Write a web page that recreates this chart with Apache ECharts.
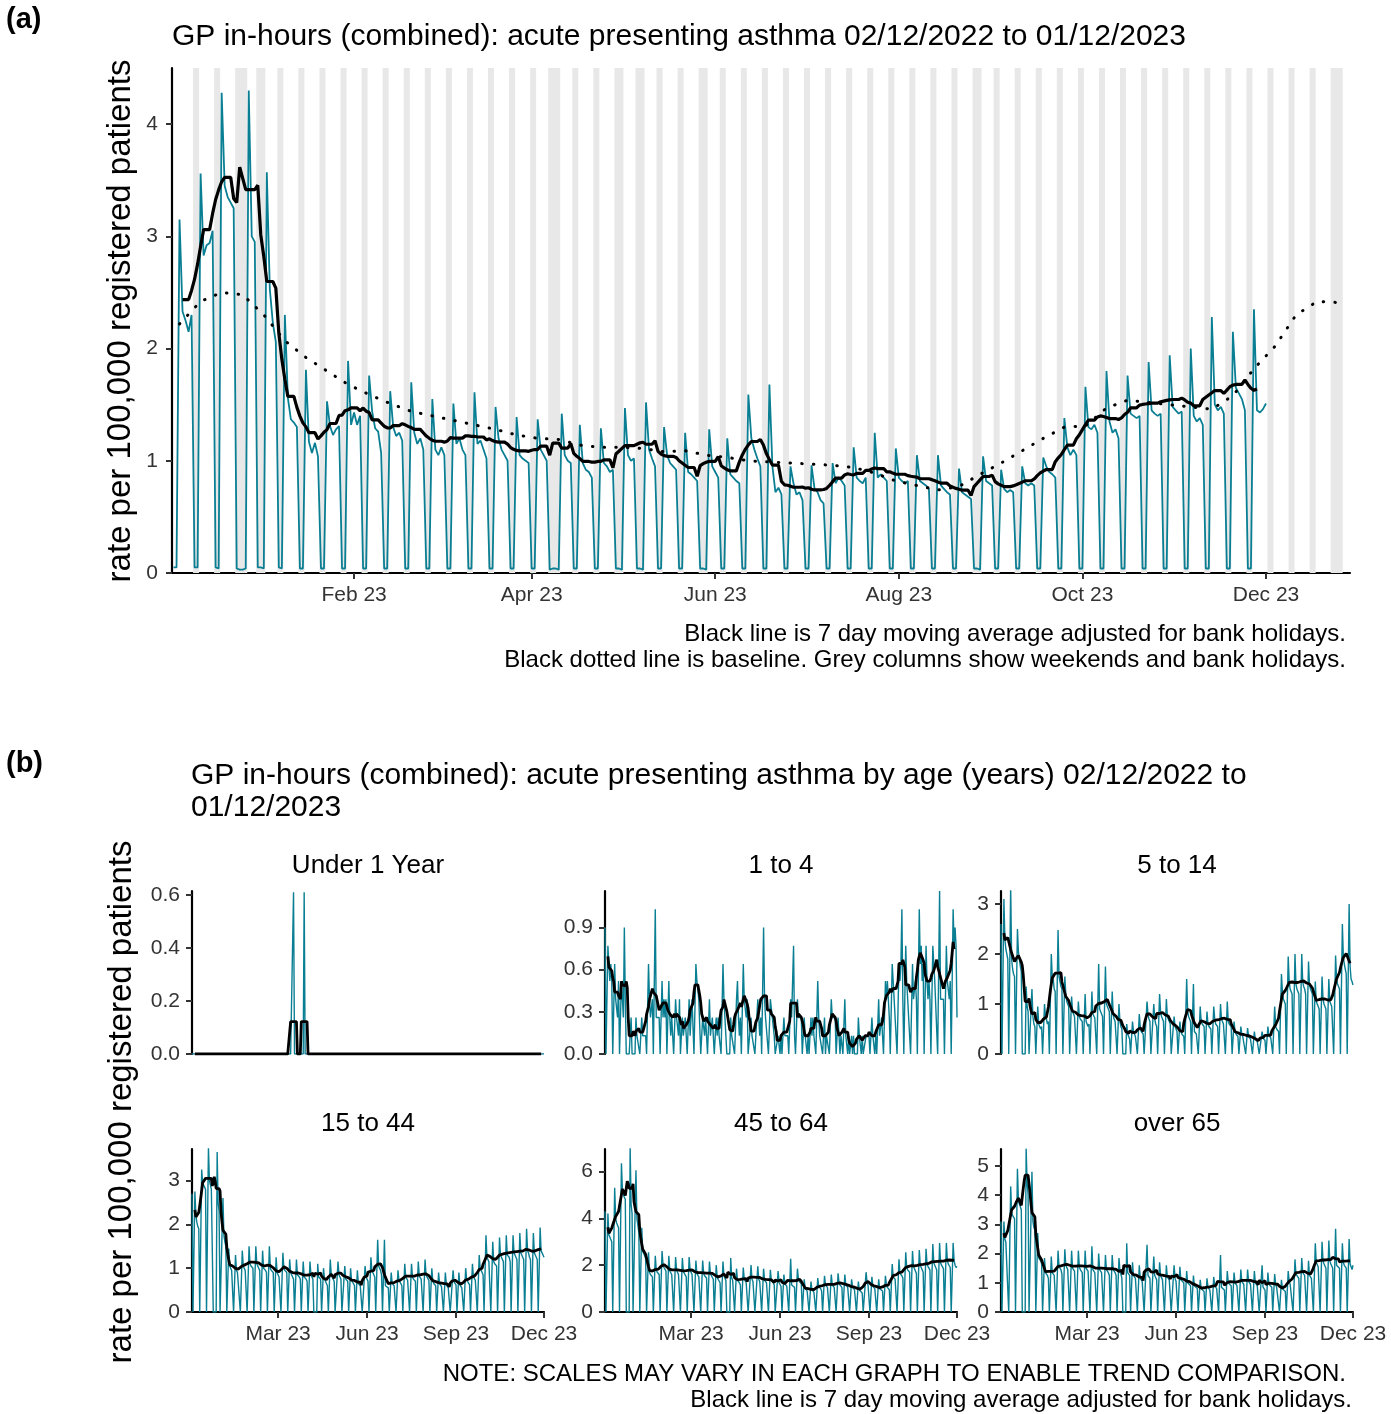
<!DOCTYPE html>
<html>
<head>
<meta charset="utf-8">
<script src="https://cdn.jsdelivr.net/npm/echarts@6/dist/echarts.min.js"></script>
<style>
html, body { margin: 0; padding: 0; background: #fff; }
#chart { width: 1391px; height: 1414px; }
</style>
</head>
<body>
<div id="chart"></div>
<script>
// ---- data ----
var bankHolidays = ['2022-12-26', '2022-12-27', '2023-01-02', '2023-04-07', '2023-04-10',
  '2023-05-01', '2023-05-08', '2023-05-29', '2023-08-28', '2023-12-25', '2023-12-26'];

// all ages, daily rate per 100,000 from Sat 03/12/2022 (rows are Mon..Sun weeks)
var allAgesStart = '2022-12-03';
var allAgesRate = [
  0.05, 0.05,
  3.15, 2.33, 2.25, 2.15, 2.30, 0.05, 0.05,
  3.56, 2.83, 2.92, 2.94, 3.05, 0.05, 0.04,
  4.28, 3.45, 3.35, 3.30, 3.25, 0.04, 0.03,
  0.03, 0.04, 4.30, 3.00, 2.95, 0.05, 0.05,
  0.04, 3.57, 2.53, 2.23, 2.06, 0.05, 0.04,
  2.30, 1.56, 1.37, 1.34, 1.30, 0.04, 0.04,
  1.81, 1.17, 1.07, 1.16, 1.04, 0.04, 0.04,
  1.53, 1.31, 1.23, 1.28, 1.31, 0.04, 0.04,
  1.89, 1.32, 1.43, 1.32, 1.40, 0.04, 0.04,
  1.76, 1.44, 1.29, 1.26, 1.07, 0.04, 0.04,
  1.62, 1.30, 1.22, 1.25, 1.18, 0.04, 0.04,
  1.70, 1.25, 1.15, 1.20, 1.10, 0.04, 0.04,
  1.55, 1.10, 1.05, 1.12, 1.05, 0.04, 0.04,
  1.51, 1.15, 1.20, 1.10, 1.05, 0.04, 0.04,
  1.61, 1.15, 1.18, 1.10, 1.02, 0.04, 0.04,
  1.48, 1.20, 1.10, 1.05, 1.00, 0.04, 0.04,
  1.39, 1.05, 1.02, 1.00, 0.98, 0.04, 0.04,
  1.37, 1.10, 1.05, 1.00, 0.03, 0.04, 0.04,
  0.03, 1.42, 1.05, 1.00, 0.98, 0.04, 0.04,
  1.32, 0.98, 0.92, 0.90, 0.85, 0.04, 0.04,
  1.29, 0.98, 0.95, 0.90, 0.92, 0.04, 0.04,
  0.03, 1.47, 1.05, 1.00, 1.02, 0.04, 0.04,
  0.03, 1.52, 1.10, 1.02, 0.95, 0.04, 0.04,
  1.30, 1.05, 0.98, 0.95, 0.92, 0.04, 0.04,
  1.25, 0.90, 0.88, 0.85, 0.82, 0.04, 0.04,
  0.03, 1.28, 0.95, 0.90, 0.85, 0.04, 0.04,
  1.20, 0.88, 0.85, 0.82, 0.80, 0.04, 0.04,
  1.59, 1.20, 1.10, 1.02, 0.95, 0.04, 0.04,
  1.68, 0.95, 0.72, 0.76, 0.70, 0.04, 0.04,
  0.95, 0.80, 0.70, 0.72, 0.65, 0.04, 0.04,
  0.96, 0.75, 0.72, 0.65, 0.62, 0.04, 0.04,
  0.98, 0.80, 0.85, 0.82, 0.78, 0.04, 0.04,
  1.12, 0.85, 0.82, 0.80, 0.85, 0.04, 0.04,
  1.25, 0.85, 0.88, 0.85, 0.82, 0.04, 0.04,
  1.11, 0.85, 0.82, 0.80, 0.82, 0.04, 0.04,
  1.05, 0.82, 0.80, 0.78, 0.75, 0.04, 0.04,
  1.05, 0.78, 0.75, 0.72, 0.70, 0.04, 0.04,
  0.93, 0.72, 0.70, 0.68, 0.66, 0.04, 0.04,
  0.03, 1.04, 0.82, 0.80, 0.78, 0.04, 0.04,
  0.92, 0.75, 0.72, 0.74, 0.72, 0.04, 0.04,
  0.95, 0.80, 0.78, 0.80, 0.78, 0.04, 0.04,
  1.03, 0.95, 0.90, 0.88, 0.85, 0.04, 0.04,
  1.38, 1.12, 1.05, 1.10, 1.05, 0.04, 0.04,
  1.66, 1.30, 1.28, 1.32, 1.25, 0.04, 0.04,
  1.80, 1.35, 1.25, 1.28, 1.20, 0.04, 0.04,
  1.76, 1.42, 1.40, 1.38, 1.40, 0.04, 0.04,
  1.88, 1.45, 1.42, 1.40, 1.42, 0.04, 0.04,
  1.94, 1.48, 1.45, 1.42, 1.44, 0.04, 0.04,
  2.00, 1.40, 1.35, 1.38, 1.32, 0.04, 0.04,
  2.28, 1.50, 1.45, 1.48, 1.42, 0.04, 0.04,
  2.15, 1.65, 1.60, 1.55, 1.45, 0.04, 0.04,
  2.35, 1.45, 1.43, 1.46, 1.51
];

// baseline, one value per week (Mondays from 05/12/2022)
var baselineStart = '2022-12-05';
var baselineRate = [
  2.22, 2.42, 2.50, 2.48, 2.30, 2.07, 1.92, 1.80, 1.68, 1.59, 1.51, 1.44, 1.40,
  1.36, 1.32, 1.28, 1.23, 1.20, 1.19, 1.14, 1.12, 1.12, 1.11, 1.08, 1.09, 1.05,
  1.03, 1.00, 0.99, 0.98, 0.97, 0.96, 0.94, 0.89, 0.82, 0.78, 0.74, 0.77, 0.88,
  0.98, 1.09, 1.20, 1.30, 1.31, 1.47, 1.54, 1.52, 1.50, 1.48, 1.46, 1.58, 1.82,
  2.02, 2.30, 2.42, 2.41
];

// by age, daily from Fri 02/12/2022 (first row Fri..Sun, then Mon..Sun weeks)
var ageStart = '2022-12-02';
var ageGroups = ['Under 1 Year', '1 to 4', '5 to 14', '15 to 44', '45 to 64', 'over 65'];

var under1Rate = [
  0, 0, 0,
  0, 0, 0, 0, 0, 0, 0,  0, 0, 0, 0, 0, 0, 0,  0, 0, 0, 0, 0, 0, 0,  0, 0, 0, 0, 0, 0, 0,
  0, 0, 0, 0, 0, 0, 0,  0, 0, 0, 0, 0, 0, 0,  0, 0, 0, 0, 0, 0, 0,  0, 0, 0, 0, 0, 0, 0,
  0, 0, 0, 0, 0, 0, 0,  0, 0, 0, 0, 0, 0, 0,  0, 0, 0, 0, 0, 0, 0,  0, 0, 0, 0, 0, 0, 0,
  0, 0, 0, 0, 0, 0, 0,  0, 0, 0, 0, 0, 0, 0,
  0, 0, 0, 0, 0.61, 0, 0,
  0, 0, 0, 0, 0, 0, 0,
  0, 0.61, 0, 0, 0, 0, 0,
  0, 0, 0, 0, 0, 0, 0,  0, 0, 0, 0, 0, 0, 0,  0, 0, 0, 0, 0, 0, 0,  0, 0, 0, 0, 0, 0, 0,
  0, 0, 0, 0, 0, 0, 0,  0, 0, 0, 0, 0, 0, 0,  0, 0, 0, 0, 0, 0, 0,  0, 0, 0, 0, 0, 0, 0,
  0, 0, 0, 0, 0, 0, 0,  0, 0, 0, 0, 0, 0, 0,  0, 0, 0, 0, 0, 0, 0,  0, 0, 0, 0, 0, 0, 0,
  0, 0, 0, 0, 0, 0, 0,  0, 0, 0, 0, 0, 0, 0,  0, 0, 0, 0, 0, 0, 0,  0, 0, 0, 0, 0, 0, 0,
  0, 0, 0, 0, 0, 0, 0,  0, 0, 0, 0, 0, 0, 0,  0, 0, 0, 0, 0, 0, 0,  0, 0, 0, 0, 0, 0, 0,
  0, 0, 0, 0, 0, 0, 0,  0, 0, 0, 0, 0, 0, 0,  0, 0, 0, 0, 0, 0, 0,  0, 0, 0, 0, 0, 0, 0,
  0, 0, 0, 0, 0, 0, 0,  0, 0, 0, 0, 0, 0, 0,  0, 0, 0, 0, 0, 0, 0,  0, 0, 0, 0, 0, 0, 0,
  0, 0, 0, 0, 0, 0, 0,  0, 0, 0, 0, 0, 0, 0,  0, 0, 0, 0, 0, 0, 0,  0, 0, 0, 0, 0, 0, 0,
  0, 0, 0, 0, 0, 0, 0,  0, 0, 0, 0, 0, 0, 0,
  0, 0, 0, 0, 0
];

var age1to4Rate = [
  0.90, 0, 0,
  0.77, 0.64, 0.52, 0.64, 0.52, 0, 0,
  0.64, 0.39, 0.39, 0.26, 0.52, 0, 0,
  0.52, 0.39, 0.26, 0.90, 0.39, 0, 0,
  0, 0, 0.13, 0.26, 0, 0, 0,
  0, 0.26, 0.13, 0.13, 0.13, 0, 0,
  0.26, 0.13, 0.13, 0.13, 0.13, 0, 0,
  0.64, 0.39, 0.26, 0.26, 0.39, 0, 0,
  1.03, 0.26, 0.26, 0.26, 0.26, 0, 0,
  0.52, 0.26, 0.39, 0.26, 0.39, 0, 0,
  0.52, 0.26, 0.13, 0.26, 0.26, 0, 0,
  0.39, 0.26, 0.26, 0.13, 0.39, 0, 0,
  0.26, 0.13, 0.13, 0.26, 0.13, 0, 0,
  0.39, 0.13, 0.26, 0.39, 0.39, 0, 0,
  0.64, 0.52, 0.52, 0.39, 0.39, 0, 0,
  0.26, 0.26, 0.13, 0.26, 0.26, 0, 0,
  0.39, 0.13, 0.13, 0.26, 0.13, 0, 0,
  0.26, 0.13, 0.26, 0.13, 0.13, 0, 0,
  0.64, 0.39, 0.26, 0.26, 0, 0, 0,
  0, 0.26, 0.13, 0.13, 0.13, 0, 0,
  0.39, 0.52, 0.26, 0.13, 0.26, 0, 0,
  0.64, 0.39, 0.39, 0.26, 0.39, 0, 0,
  0, 0.26, 0.13, 0.13, 0.13, 0, 0,
  0, 0.39, 0.26, 0.13, 0.26, 0, 0,
  0.90, 0.39, 0.26, 0.26, 0.26, 0, 0,
  0.39, 0.39, 0.26, 0.26, 0.13, 0, 0,
  0, 0.13, 0.13, 0, 0.13, 0, 0,
  0.26, 0.13, 0.13, 0.13, 0.13, 0, 0,
  0.39, 0.26, 0.26, 0.77, 0.13, 0, 0,
  0.39, 0.26, 0.26, 0.26, 0.26, 0, 0,
  0.26, 0.13, 0.13, 0, 0.13, 0, 0,
  0.26, 0.13, 0.26, 0.13, 0.13, 0, 0,
  0.52, 0.26, 0.13, 0.13, 0.13, 0, 0,
  0.26, 0, 0.13, 0.13, 0.13, 0, 0,
  0.39, 0.26, 0.26, 0.26, 0.26, 0, 0,
  0.26, 0.13, 0, 0.13, 0.13, 0, 0,
  0.39, 0.13, 0.13, 0, 0.13, 0, 0,
  0.13, 0, 0.13, 0, 0, 0, 0,
  0.26, 0.13, 0.13, 0, 0.13, 0, 0,
  0, 0.13, 0.13, 0.13, 0.13, 0, 0,
  0.26, 0.13, 0.13, 0, 0.13, 0, 0,
  0.39, 0.13, 0.13, 0.26, 0.13, 0, 0,
  0.52, 0.39, 0.52, 0.39, 0.26, 0, 0,
  0.64, 0.52, 0.39, 0.39, 0.39, 0, 0,
  0.64, 0.52, 0.64, 1.03, 0.39, 0, 0,
  0.77, 0.52, 0.39, 0.39, 0.39, 0, 0,
  0.64, 0.39, 0.39, 0.52, 0.39, 0, 0,
  1.03, 0.64, 0.77, 0.52, 0.64, 0, 0,
  0.77, 0.52, 0.39, 0.52, 0.39, 0, 0,
  0.77, 0.64, 0.52, 0.52, 0.52, 0, 0,
  1.16, 0.39, 0.39, 0.39, 0.39, 0, 0,
  0.77, 0.52, 0.52, 0.39, 0.52, 0, 0,
  1.03, 0.77, 0.90, 0.77, 0.26
];

var age5to14Rate = [
  2.60, 0, 0,
  3.10, 2.30, 2.10, 2.00, 1.90, 0, 0,
  3.35, 1.90, 1.70, 1.60, 1.55, 0, 0,
  2.50, 2.05, 1.90, 1.75, 1.65, 0, 0,
  0, 0, 1.35, 0.95, 0.85, 0, 0,
  0, 1.30, 0.75, 0.60, 0.55, 0, 0,
  0.95, 0.60, 0.55, 0.50, 0.55, 0, 0,
  1.00, 0.75, 0.70, 0.60, 0.65, 0, 0,
  2.00, 1.55, 1.50, 1.30, 1.25, 0, 0,
  2.48, 1.55, 1.45, 1.35, 1.30, 0, 0,
  1.55, 1.20, 1.05, 1.00, 0.95, 0, 0,
  1.15, 0.85, 0.80, 0.75, 0.72, 0, 0,
  1.05, 0.75, 0.70, 0.68, 0.65, 0, 0,
  1.20, 0.65, 0.62, 0.55, 0.60, 0, 0,
  1.25, 0.80, 0.78, 0.72, 0.70, 0, 0,
  1.80, 0.90, 0.85, 0.80, 0.75, 0, 0,
  1.75, 1.00, 0.95, 0.90, 0.85, 0, 0,
  1.25, 0.80, 0.70, 0.65, 0.62, 0, 0,
  1.00, 0.65, 0.55, 0.50, 0, 0, 0,
  0, 0.60, 0.40, 0.35, 0.30, 0, 0,
  0.65, 0.45, 0.40, 0.35, 0.32, 0, 0,
  0.80, 0.55, 0.45, 0.42, 0.40, 0, 0,
  0, 1.05, 0.80, 0.70, 0.65, 0, 0,
  0, 1.00, 0.70, 0.60, 0.55, 0, 0,
  1.20, 0.85, 0.75, 0.70, 0.65, 0, 0,
  1.10, 0.75, 0.70, 0.65, 0.60, 0, 0,
  0, 0.75, 0.55, 0.50, 0.45, 0, 0,
  0.65, 0.45, 0.40, 0.38, 0.35, 0, 0,
  1.50, 0.85, 0.75, 0.70, 0.65, 0, 0,
  1.40, 0.45, 0.45, 0.40, 0.40, 0, 0,
  0.95, 0.65, 0.60, 0.58, 0.55, 0, 0,
  0.85, 0.60, 0.55, 0.52, 0.50, 0, 0,
  0.95, 0.70, 0.60, 0.58, 0.55, 0, 0,
  1.00, 0.70, 0.65, 0.60, 0.58, 0, 0,
  1.05, 0.65, 0.60, 0.58, 0.55, 0, 0,
  0.65, 0.45, 0.40, 0.38, 0.35, 0, 0,
  0.55, 0.40, 0.35, 0.33, 0.32, 0, 0,
  0.52, 0.35, 0.33, 0.30, 0.30, 0, 0,
  0.45, 0.30, 0.28, 0.25, 0.25, 0, 0,
  0, 0.45, 0.32, 0.28, 0.27, 0, 0,
  0.55, 0.38, 0.35, 0.32, 0.30, 0, 0,
  0.95, 0.55, 0.50, 0.48, 0.45, 0, 0,
  1.60, 1.25, 1.10, 1.05, 1.00, 0, 0,
  1.95, 1.45, 1.30, 1.25, 1.20, 0, 0,
  2.00, 1.40, 1.30, 1.25, 1.20, 0, 0,
  2.00, 1.45, 1.35, 1.30, 1.20, 0, 0,
  1.85, 1.40, 1.30, 1.25, 1.20, 0, 0,
  1.45, 1.05, 1.00, 0.95, 0.90, 0, 0,
  1.55, 1.10, 1.00, 0.95, 0.90, 0, 0,
  1.50, 1.05, 1.00, 0.95, 0.92, 0, 0,
  1.97, 1.50, 1.40, 1.35, 1.30, 0, 0,
  2.60, 1.95, 1.80, 1.70, 1.60, 0, 0,
  3.00, 1.75, 1.50, 1.45, 1.38
];

var age15to44Rate = [
  2.70, 0, 0,
  2.75, 2.20, 2.05, 1.95, 1.90, 0, 0,
  3.25, 2.95, 2.90, 2.85, 2.80, 0, 0,
  3.75, 3.00, 2.90, 2.80, 2.80, 0, 0,
  0, 0, 3.65, 2.50, 2.30, 0, 0,
  0, 2.60, 1.75, 1.60, 1.50, 0, 0,
  1.45, 1.05, 1.00, 0.95, 0.95, 0, 0,
  1.30, 0.95, 0.90, 0.88, 0.87, 0, 0,
  1.40, 1.05, 1.00, 0.95, 0.95, 0, 0,
  1.50, 1.10, 1.05, 1.05, 1.00, 0, 0,
  1.50, 1.10, 1.05, 1.00, 0.95, 0, 0,
  1.40, 1.00, 1.00, 0.95, 0.90, 0, 0,
  1.50, 1.00, 0.95, 0.95, 0.90, 0, 0,
  1.25, 0.90, 0.85, 0.80, 0.80, 0, 0,
  1.35, 1.00, 0.95, 0.95, 0.90, 0, 0,
  1.20, 0.90, 0.85, 0.80, 0.75, 0, 0,
  1.20, 0.85, 0.85, 0.80, 0.75, 0, 0,
  1.15, 0.80, 0.80, 0.75, 0.70, 0, 0,
  1.15, 0.85, 0.80, 0.75, 0, 0, 0,
  0, 1.10, 0.80, 0.80, 0.75, 0, 0,
  1.00, 0.75, 0.70, 0.65, 0.60, 0, 0,
  1.20, 0.85, 0.80, 0.75, 0.70, 0, 0,
  0, 1.15, 0.85, 0.80, 0.75, 0, 0,
  0, 1.05, 0.75, 0.72, 0.70, 0, 0,
  1.00, 0.72, 0.68, 0.65, 0.60, 0, 0,
  0.95, 0.65, 0.62, 0.60, 0.58, 0, 0,
  0, 1.05, 0.80, 0.75, 0.70, 0, 0,
  1.25, 0.95, 0.90, 0.85, 0.80, 0, 0,
  1.65, 1.05, 1.00, 0.95, 0.85, 0, 0,
  1.65, 0.60, 0.60, 0.58, 0.55, 0, 0,
  0.90, 0.65, 0.62, 0.60, 0.58, 0, 0,
  0.95, 0.72, 0.68, 0.65, 0.60, 0, 0,
  1.10, 0.80, 0.78, 0.72, 0.70, 0, 0,
  1.10, 0.80, 0.75, 0.75, 0.70, 0, 0,
  1.15, 0.82, 0.80, 0.75, 0.72, 0, 0,
  1.20, 0.85, 0.80, 0.78, 0.72, 0, 0,
  1.00, 0.70, 0.65, 0.62, 0.60, 0, 0,
  0.90, 0.65, 0.62, 0.58, 0.55, 0, 0,
  0.90, 0.62, 0.58, 0.55, 0.55, 0, 0,
  0, 0.95, 0.68, 0.65, 0.62, 0, 0,
  0.90, 0.62, 0.60, 0.55, 0.52, 0, 0,
  1.00, 0.75, 0.70, 0.68, 0.62, 0, 0,
  1.10, 0.80, 0.78, 0.72, 0.70, 0, 0,
  1.30, 1.00, 0.95, 0.90, 0.85, 0, 0,
  1.75, 1.25, 1.20, 1.15, 1.15, 0, 0,
  1.60, 1.15, 1.10, 1.10, 1.05, 0, 0,
  1.70, 1.30, 1.25, 1.20, 1.15, 0, 0,
  1.75, 1.30, 1.30, 1.25, 1.15, 0, 0,
  1.75, 1.35, 1.30, 1.25, 1.20, 0, 0,
  1.80, 1.35, 1.30, 1.30, 1.20, 0, 0,
  1.90, 1.40, 1.35, 1.25, 1.20, 0, 0,
  1.80, 1.35, 1.30, 1.30, 1.20, 0, 0,
  1.93, 1.40, 1.35, 1.30, 1.25
];

var age45to64Rate = [
  4.30, 0, 0,
  4.20, 3.30, 3.20, 3.10, 3.00, 0, 0,
  5.30, 4.00, 3.80, 3.70, 3.60, 0, 0,
  6.35, 5.20, 5.00, 4.90, 4.80, 0, 0,
  0, 0, 7.05, 4.60, 4.20, 0, 0,
  0, 6.05, 4.00, 3.70, 3.40, 0, 0,
  3.60, 2.60, 2.50, 2.40, 2.30, 0, 0,
  2.55, 1.70, 1.60, 1.55, 1.50, 0, 0,
  2.40, 1.80, 1.70, 1.65, 1.60, 0, 0,
  2.60, 2.00, 1.90, 1.85, 1.75, 0, 0,
  2.40, 1.75, 1.70, 1.60, 1.55, 0, 0,
  2.35, 1.80, 1.70, 1.60, 1.55, 0, 0,
  2.30, 1.75, 1.65, 1.60, 1.50, 0, 0,
  2.35, 1.80, 1.70, 1.60, 1.55, 0, 0,
  2.20, 1.65, 1.60, 1.50, 1.45, 0, 0,
  2.20, 1.65, 1.55, 1.50, 1.45, 0, 0,
  2.15, 1.65, 1.55, 1.50, 1.40, 0, 0,
  2.00, 1.50, 1.40, 1.35, 1.25, 0, 0,
  2.15, 1.55, 1.45, 1.35, 0, 0, 0,
  0, 2.30, 1.45, 1.35, 1.30, 0, 0,
  1.85, 1.35, 1.30, 1.25, 1.15, 0, 0,
  1.90, 1.40, 1.35, 1.25, 1.20, 0, 0,
  0, 2.00, 1.40, 1.30, 1.25, 0, 0,
  0, 1.95, 1.40, 1.30, 1.25, 0, 0,
  1.85, 1.35, 1.30, 1.25, 1.20, 0, 0,
  1.80, 1.35, 1.30, 1.25, 1.15, 0, 0,
  0, 1.75, 1.25, 1.20, 1.10, 0, 0,
  1.60, 1.20, 1.15, 1.10, 1.05, 0, 0,
  2.27, 1.15, 1.10, 1.10, 1.05, 0, 0,
  1.85, 1.40, 1.30, 1.25, 1.20, 0, 0,
  1.40, 1.00, 0.95, 0.90, 0.85, 0, 0,
  1.30, 0.95, 0.90, 0.85, 0.80, 0, 0,
  1.45, 1.10, 1.05, 1.00, 0.90, 0, 0,
  1.55, 1.15, 1.10, 1.05, 1.00, 0, 0,
  1.60, 1.15, 1.10, 1.05, 1.00, 0, 0,
  1.65, 1.25, 1.15, 1.10, 1.05, 0, 0,
  1.60, 1.15, 1.10, 1.05, 1.00, 0, 0,
  1.40, 1.05, 1.00, 0.95, 0.90, 0, 0,
  1.30, 0.95, 0.95, 0.90, 0.80, 0, 0,
  0, 1.70, 1.25, 1.15, 1.10, 0, 0,
  1.50, 1.10, 1.05, 1.00, 0.95, 0, 0,
  1.40, 1.00, 0.95, 0.95, 0.90, 0, 0,
  1.55, 1.15, 1.05, 1.05, 0.95, 0, 0,
  2.05, 1.50, 1.45, 1.40, 1.35, 0, 0,
  2.25, 1.65, 1.60, 1.55, 1.45, 0, 0,
  2.55, 1.90, 1.80, 1.80, 1.70, 0, 0,
  2.60, 1.95, 1.85, 1.80, 1.65, 0, 0,
  2.65, 2.00, 1.90, 1.85, 1.70, 0, 0,
  2.70, 2.05, 1.95, 1.90, 1.80, 0, 0,
  2.90, 2.10, 2.00, 1.95, 1.80, 0, 0,
  2.95, 2.10, 2.00, 1.95, 1.85, 0, 0,
  2.95, 2.20, 2.05, 2.00, 1.90, 0, 0,
  2.95, 2.20, 2.00, 1.90, 1.95
];

var age65plusRate = [
  3.10, 0, 0,
  3.10, 2.50, 2.40, 2.40, 2.35, 0, 0,
  4.30, 3.40, 3.30, 3.30, 3.20, 0, 0,
  4.90, 3.80, 3.70, 3.60, 3.50, 0, 0,
  0, 0, 5.60, 4.40, 4.05, 0, 0,
  0, 4.80, 3.10, 2.90, 2.80, 0, 0,
  2.70, 1.85, 1.80, 1.75, 1.65, 0, 0,
  1.85, 1.35, 1.30, 1.25, 1.15, 0, 0,
  1.90, 1.35, 1.30, 1.25, 1.20, 0, 0,
  2.10, 1.55, 1.50, 1.45, 1.30, 0, 0,
  2.15, 1.60, 1.55, 1.45, 1.40, 0, 0,
  2.10, 1.50, 1.50, 1.40, 1.35, 0, 0,
  2.10, 1.55, 1.45, 1.45, 1.35, 0, 0,
  2.10, 1.50, 1.45, 1.40, 1.35, 0, 0,
  2.25, 1.45, 1.40, 1.35, 1.30, 0, 0,
  2.00, 1.45, 1.40, 1.35, 1.30, 0, 0,
  1.95, 1.45, 1.40, 1.35, 1.25, 0, 0,
  1.95, 1.45, 1.40, 1.35, 1.25, 0, 0,
  1.85, 1.40, 1.30, 1.15, 0, 0, 0,
  0, 2.35, 1.35, 1.30, 1.25, 0, 0,
  1.70, 1.25, 1.20, 1.15, 1.10, 0, 0,
  1.60, 1.15, 1.10, 1.05, 1.00, 0, 0,
  0, 2.30, 1.25, 1.20, 1.15, 0, 0,
  0, 1.90, 1.25, 1.20, 1.10, 0, 0,
  1.70, 1.25, 1.20, 1.10, 1.10, 0, 0,
  1.60, 1.20, 1.15, 1.10, 1.05, 0, 0,
  0, 1.60, 1.15, 1.05, 1.05, 0, 0,
  1.55, 1.10, 1.05, 1.05, 1.00, 0, 0,
  1.40, 1.00, 0.95, 0.95, 0.90, 0, 0,
  1.25, 0.90, 0.85, 0.85, 0.80, 0, 0,
  1.10, 0.80, 0.75, 0.75, 0.70, 0, 0,
  1.15, 0.85, 0.80, 0.75, 0.75, 0, 0,
  1.20, 0.90, 0.85, 0.80, 0.75, 0, 0,
  1.95, 0.85, 0.80, 0.80, 0.75, 0, 0,
  1.40, 1.00, 0.95, 0.95, 0.90, 0, 0,
  1.35, 1.00, 0.95, 0.90, 0.90, 0, 0,
  1.45, 1.05, 1.00, 0.95, 0.95, 0, 0,
  1.45, 1.05, 1.00, 0.95, 0.95, 0, 0,
  1.40, 1.00, 0.95, 0.90, 0.90, 0, 0,
  0, 1.60, 0.85, 0.80, 0.75, 0, 0,
  1.35, 0.95, 0.90, 0.90, 0.85, 0, 0,
  1.30, 0.95, 0.85, 0.85, 0.80, 0, 0,
  1.10, 0.80, 0.75, 0.75, 0.70, 0, 0,
  1.40, 1.05, 0.95, 0.95, 0.90, 0, 0,
  1.80, 1.30, 1.25, 1.25, 1.15, 0, 0,
  1.85, 1.35, 1.30, 1.25, 1.20, 0, 0,
  1.75, 1.25, 1.20, 1.15, 1.15, 0, 0,
  2.35, 1.70, 1.65, 1.55, 1.50, 0, 0,
  2.40, 1.75, 1.65, 1.60, 1.50, 0, 0,
  2.45, 1.75, 1.65, 1.60, 1.50, 0, 0,
  2.85, 1.60, 1.60, 1.55, 1.50, 0, 0,
  2.35, 1.70, 1.60, 1.55, 1.50, 0, 0,
  2.50, 1.65, 1.55, 1.45, 1.60
];

var ageRates = [under1Rate, age1to4Rate, age5to14Rate, age15to44Rate, age45to64Rate, age65plusRate];

var xTicksA = ['2023-02-01', '2023-04-01', '2023-06-01', '2023-08-01', '2023-10-01', '2023-12-01'];
var xTicksB = ['2023-03-01', '2023-06-01', '2023-09-01', '2023-12-01'];
var yTicksA = [0, 1, 2, 3, 4];
var yTicksB = [[0, 0.2, 0.4, 0.6], [0, 0.3, 0.6, 0.9], [0, 1, 2, 3], [0, 1, 2, 3], [0, 2, 4, 6], [0, 1, 2, 3, 4, 5]];

// sanity check on the hand-typed series lengths
ageRates.forEach(function (a, i) {
  if (a.length !== 365) throw new Error('age series ' + i + ' has ' + a.length + ' days');
});
if (allAgesRate.length !== 364) throw new Error('all ages series has ' + allAgesRate.length + ' days');

// ---- helpers ----
var DAY = 86400000;
var MONTHS = ['Jan', 'Feb', 'Mar', 'Apr', 'May', 'Jun', 'Jul', 'Aug', 'Sep', 'Oct', 'Nov', 'Dec'];
var FONT = '"Liberation Sans", Arial, Helvetica, sans-serif';
var TEAL = '#0a7f93';

function toMs(s) {
  var p = s.split('-');
  return Date.UTC(+p[0], +p[1] - 1, +p[2]);
}
var holidaySet = {};
bankHolidays.forEach(function (d) { holidaySet[toMs(d)] = true; });

function isOff(t) {
  var wd = new Date(t).getUTCDay();
  return wd === 0 || wd === 6 || holidaySet[t] === true;
}

function daily(start, vals) {
  var t0 = toMs(start);
  return vals.map(function (v, i) { return [t0 + i * DAY, v]; });
}

// 7 day centred moving average of working days only (weekends and bank holidays left out)
function movingAverage(start, vals) {
  var t0 = toMs(start), out = [];
  for (var i = 3; i < vals.length - 3; i++) {
    var sum = 0, n = 0;
    for (var j = i - 3; j <= i + 3; j++) {
      if (!isOff(t0 + j * DAY)) { sum += vals[j]; n++; }
    }
    out.push([t0 + i * DAY, n ? sum / n : null]);
  }
  return out;
}

function monthLabel(v) {
  var d = new Date(v);
  return MONTHS[d.getUTCMonth()] + ' ' + String(d.getUTCFullYear()).slice(2);
}

// grey columns for weekends and bank holidays
function offBlocks(from, to) {
  var blocks = [], cur = null;
  for (var t = from; t <= to; t += DAY) {
    if (isOff(t)) {
      if (cur) cur[1] = t; else cur = [t, t];
    } else if (cur) { blocks.push(cur); cur = null; }
  }
  if (cur) blocks.push(cur);
  return blocks.map(function (b) {
    return [{ xAxis: b[0] - DAY / 2 }, { xAxis: b[1] + DAY / 2 }];
  });
}

function txt(x, y, text, size, opt) {
  opt = opt || {};
  var align = opt.align || 'left';
  return {
    type: 'text', x: x, y: y, rotation: opt.rotate ? Math.PI / 2 : 0, silent: true,
    style: {
      text: text, fill: '#000',
      font: (opt.bold ? 'bold ' : '') + size + 'px ' + FONT,
      align: align, textAlign: align,
      verticalAlign: 'middle', textVerticalAlign: 'middle'
    }
  };
}

var axisLine = { lineStyle: { color: '#000', width: 2.2 } };
var axisTick = { length: 6, lineStyle: { color: '#333', width: 2 } };
var tickFont = { color: '#333', fontSize: 21, margin: 12, fontFamily: FONT };

// ---- panel (a) ----
var xMinA = Date.UTC(2022, 11, 2, 12);
var xMaxA = Date.UTC(2023, 11, 28, 22);
var grids = [{ left: 172, top: 68, width: 1178, height: 505, outerBoundsMode: 'none' }];
var xAxes = [{
  type: 'value', gridIndex: 0, min: xMinA, max: xMaxA,
  axisLine: axisLine, splitLine: { show: false },
  axisTick: Object.assign({ customValues: xTicksA.map(toMs) }, axisTick),
  axisLabel: Object.assign({ customValues: xTicksA.map(toMs), formatter: monthLabel }, tickFont)
}];
var yAxes = [{
  type: 'value', gridIndex: 0, min: 0, max: 4.5,
  axisLine: axisLine, splitLine: { show: false },
  axisTick: Object.assign({ customValues: yTicksA }, axisTick),
  axisLabel: Object.assign({ customValues: yTicksA }, tickFont, { margin: 14 })
}];
var series = [
  {
    type: 'line', xAxisIndex: 0, yAxisIndex: 0, z: 2,
    data: daily(allAgesStart, allAgesRate), showSymbol: false,
    lineStyle: { color: TEAL, width: 1.8 },
    markArea: { silent: true, itemStyle: { color: '#e8e8e8' }, data: offBlocks(toMs('2022-12-05'), xMaxA) }
  },
  {
    type: 'line', xAxisIndex: 0, yAxisIndex: 0, z: 3,
    data: baselineRate.map(function (v, i) { return [toMs(baselineStart) + i * 7 * DAY, v]; }),
    showSymbol: false,
    lineStyle: { color: '#000', width: 3, type: [0.5, 11.2], cap: 'round' }
  },
  {
    type: 'line', xAxisIndex: 0, yAxisIndex: 0, z: 4,
    data: movingAverage(allAgesStart, allAgesRate), showSymbol: false,
    lineStyle: { color: '#000', width: 3.2 }
  }
];

// ---- panel (b): age facets ----
var colLeft = [192, 605, 1001];
var rowTop = [891, 1149];
var yMaxB = [0.615, 1.16, 3.26, 3.72, 6.96, 5.58];
var xMinB = toMs('2022-12-02'), xMaxB = toMs('2023-12-01');
var graphics = [];

ageGroups.forEach(function (name, k) {
  var row = Math.floor(k / 3), col = k % 3, idx = k + 1;
  grids.push({ left: colLeft[col], top: rowTop[row], width: 352, height: 163, outerBoundsMode: 'none' });
  xAxes.push({
    type: 'value', gridIndex: idx, min: xMinB, max: xMaxB, show: row === 1,
    axisLine: axisLine, splitLine: { show: false },
    axisTick: Object.assign({ customValues: xTicksB.map(toMs) }, axisTick),
    axisLabel: Object.assign({ customValues: xTicksB.map(toMs), formatter: monthLabel }, tickFont)
  });
  var decimals = yTicksB[k].some(function (v) { return v % 1 !== 0; }) ? 1 : 0;
  yAxes.push({
    type: 'value', gridIndex: idx, min: 0, max: yMaxB[k],
    axisLine: axisLine, splitLine: { show: false },
    axisTick: Object.assign({ customValues: yTicksB[k] }, axisTick),
    axisLabel: Object.assign({
      customValues: yTicksB[k],
      formatter: function (v) { return v.toFixed(decimals); }
    }, tickFont)
  });
  series.push({
    type: 'line', xAxisIndex: idx, yAxisIndex: idx, z: 2,
    data: daily(ageStart, ageRates[k]), showSymbol: false,
    lineStyle: { color: TEAL, width: 1.4 }
  });
  series.push({
    type: 'line', xAxisIndex: idx, yAxisIndex: idx, z: 4,
    data: movingAverage(ageStart, ageRates[k]), showSymbol: false,
    lineStyle: { color: '#000', width: 2.8 }
  });
  graphics.push(txt(colLeft[col] + 176, rowTop[row] - 25, name, 26, { align: 'center' }));
});

// ---- titles and notes ----
graphics.push(
  txt(6, 20, '(a)', 29, { bold: true }),
  txt(172, 37, 'GP in-hours (combined): acute presenting asthma 02/12/2022 to 01/12/2023', 30),
  txt(121, 321, 'rate per 100,000 registered patients', 33, { rotate: true, align: 'center' }),
  txt(1346, 634, 'Black line is 7 day moving average adjusted for bank holidays.', 24, { align: 'right' }),
  txt(1346, 660, 'Black dotted line is baseline. Grey columns show weekends and bank holidays.', 24, { align: 'right' }),
  txt(6, 764, '(b)', 29, { bold: true }),
  txt(191, 776, 'GP in-hours (combined): acute presenting asthma by age (years) 02/12/2022 to', 30),
  txt(191, 808, '01/12/2023', 30),
  txt(122, 1102, 'rate per 100,000 registered patients', 33, { rotate: true, align: 'center' }),
  txt(1346, 1374, 'NOTE: SCALES MAY VARY IN EACH GRAPH TO ENABLE TREND COMPARISON.', 24, { align: 'right' }),
  txt(1352, 1400, 'Black line is 7 day moving average adjusted for bank holidays.', 24, { align: 'right' })
);

var chart = echarts.init(document.getElementById('chart'), null, { renderer: 'canvas' });
chart.setOption({
  animation: false,
  backgroundColor: '#fff',
  textStyle: { fontFamily: FONT },
  grid: grids,
  xAxis: xAxes,
  yAxis: yAxes,
  series: series,
  graphic: graphics
});
</script>
</body>
</html>
